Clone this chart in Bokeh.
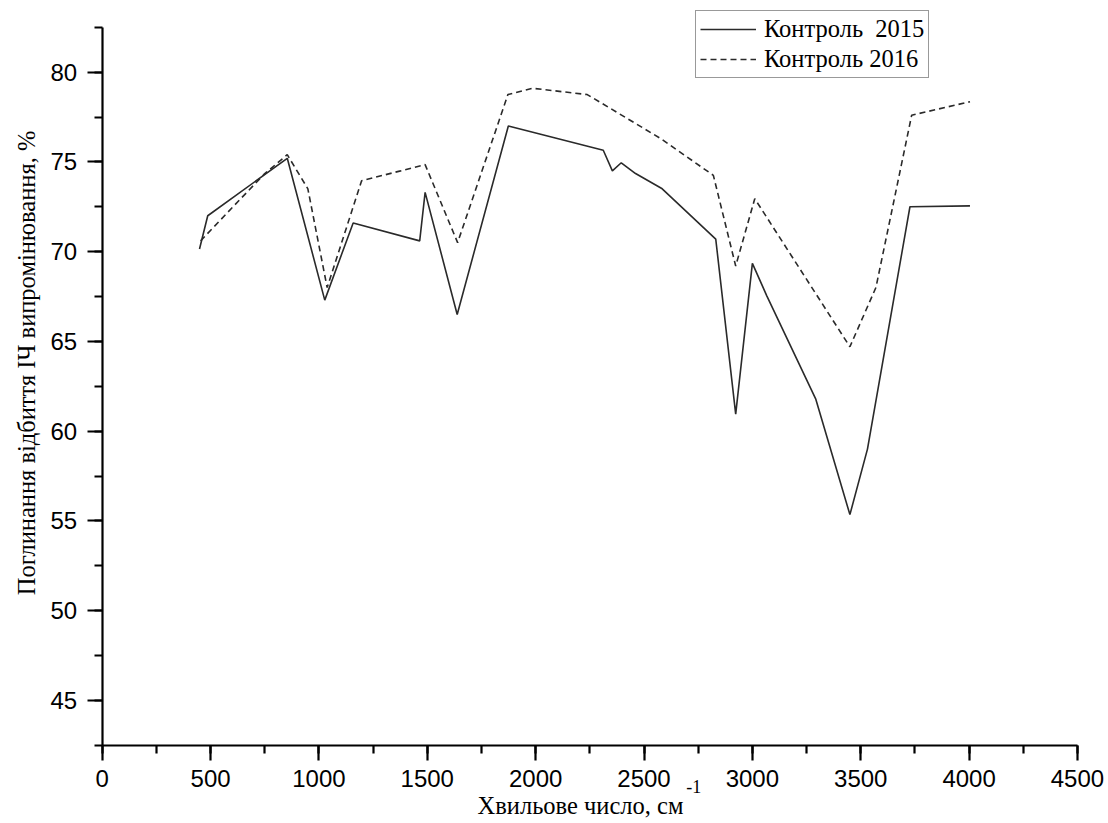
from bokeh.plotting import figure
from bokeh.models import Range1d, SingleIntervalTicker, Label, Legend, LegendItem
from bokeh.embed import file_html
from bokeh.resources import INLINE
import math

# Data (wavenumber, cm^-1 ; absorbance %)
x_2015 = [449, 487, 854, 1027, 1158, 1465, 1490, 1638, 1874, 2312, 2354, 2395, 2461,
          2584, 2831, 2923, 3000, 3066, 3292, 3450, 3531, 3727, 4004]
y_2015 = [70.15, 72.0, 75.2, 67.3, 71.6, 70.6, 73.3, 66.5, 77.0, 75.65, 74.5, 74.95, 74.35,
          73.5, 70.7, 60.95, 69.35, 67.55, 61.8, 55.35, 59.0, 72.5, 72.55]

x_2016 = [454, 746, 854, 949, 1038, 1197, 1377, 1490, 1640, 1872, 1985, 2238, 2577,
          2820, 2923, 3011, 3450, 3570, 3735, 4004]
y_2016 = [70.6, 74.3, 75.4, 73.5, 68.0, 73.95, 74.5, 74.85, 70.5, 78.75, 79.1, 78.75, 76.3,
          74.25, 69.2, 72.95, 64.7, 68.0, 77.6, 78.35]

series_labels = ["Контроль  2015", "Контроль 2016"]
x_title = "Хвильове число, см"
x_title_sup = "-1"
y_title = "Поглинання відбиття ІЧ випромінювання, %"

# axis extents
x_axis_bounds = (0, 4500)
y_axis_bounds = (42.5, 82.5)

W, H = 1104, 820
p = figure(width=W, height=H, output_backend="svg", toolbar_location=None,
           x_range=Range1d(-469.2, 4624.7), y_range=Range1d(38.31, 83.99),
           min_border_left=0, min_border_right=0, min_border_top=0, min_border_bottom=0)
p.outline_line_color = None
p.xgrid.visible = False
p.ygrid.visible = False
p.background_fill_color = "white"
p.border_fill_color = "white"

xa = p.xaxis[0]
ya = p.yaxis[0]
xa.fixed_location = y_axis_bounds[0]
ya.fixed_location = x_axis_bounds[0]
xa.bounds = x_axis_bounds
ya.bounds = y_axis_bounds

for ax, interval, standoff in ((xa, 500, 10), (ya, 5, 10)):
    ax.ticker = SingleIntervalTicker(interval=interval, num_minor_ticks=2)
    ax.axis_line_width = 2.2
    ax.axis_line_color = "black"
    ax.major_tick_line_width = 2.2
    ax.minor_tick_line_width = 2.2
    ax.major_tick_line_color = "black"
    ax.minor_tick_line_color = "black"
    ax.major_tick_in = 0
    ax.major_tick_out = 15
    ax.minor_tick_in = 0
    ax.minor_tick_out = 8
    ax.major_label_text_font = "Liberation Sans"
    ax.major_label_text_font_size = "24px"
    ax.major_label_text_color = "black"
    ax.major_label_standoff = standoff

r1 = p.line(x_2015, y_2015, line_color="#2a2a2a", line_width=1.6)
r2 = p.line(x_2016, y_2016, line_color="#2a2a2a", line_width=1.6, line_dash="6 4")

legend = Legend(items=[LegendItem(label=series_labels[0], renderers=[r1]),
                       LegendItem(label=series_labels[1], renderers=[r2])],
                location=(695, 742))
legend.label_text_font = "Liberation Serif"
legend.label_text_font_size = "24.5px"
legend.label_text_color = "black"
legend.glyph_width = 56
legend.glyph_height = 26
legend.label_height = 26
legend.label_standoff = 8
legend.spacing = 2
legend.padding = 4
legend.margin = 0
legend.border_line_color = "#333333"
legend.border_line_width = 1.2
legend.background_fill_color = "white"
legend.background_fill_alpha = 1.0
p.add_layout(legend, "center")

p.add_layout(Label(x=-349, y=63.8, text=y_title, angle=math.pi / 2,
                   text_align="center", text_baseline="middle",
                   text_font="Liberation Serif", text_font_size="24.5px", text_color="black"))
p.add_layout(Label(x=2207, y=39.12, text=x_title,
                   text_align="center", text_baseline="middle",
                   text_font="Liberation Serif", text_font_size="24.5px", text_color="black"))
p.add_layout(Label(x=2729, y=40.2, text=x_title_sup,
                   text_align="center", text_baseline="middle",
                   text_font="Liberation Serif", text_font_size="18px", text_color="black"))

open("out.html", "w").write(file_html(p, INLINE))
